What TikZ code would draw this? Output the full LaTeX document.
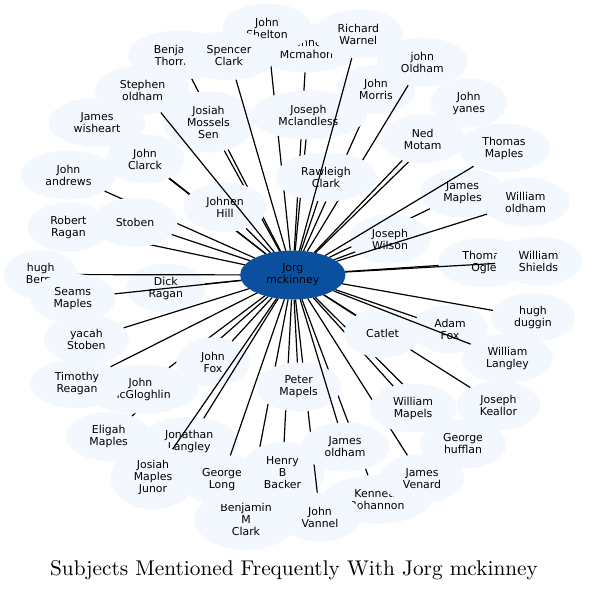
\documentclass[tikz,border=0pt]{standalone}
\usepackage{fontspec}
\newfontfamily\dvs{DejaVu Sans}
\newfontfamily\titlefont{lmroman10-regular.otf}
\usetikzlibrary{shapes.geometric}
\pgfdeclarelayer{fg}
\pgfsetlayers{main,fg}
\definecolor{nodefill}{RGB}{243,247,254}
\definecolor{hubfill}{RGB}{11,80,158}
\tikzset{
  person/.style={ellipse, fill=nodefill, inner xsep=10.8pt, inner ysep=5.4pt,
    minimum width=73.4pt, minimum height=49pt, align=center, outer sep=0pt,
    font=\dvs\fontsize{10.9}{12}\selectfont, text=black},
  hub/.style={person, fill=hubfill},
  link/.style={draw=black, line width=1.2pt},
  caption/.style={font=\titlefont\fontsize{21.3}{24}\selectfont, anchor=base, inner sep=0pt},
}
\begin{document}
\begin{tikzpicture}[x=1pt,y=-1pt]
\useasboundingbox (0,0) rectangle (589,590);
\fill[white] (0,0) rectangle (589,590);
\begin{pgfonlayer}{fg}
\node[hub] (c) at (292.8,275) {Jorg\\mckinney};
\end{pgfonlayer}
\node[person] (mcmahon) at (306.5,48) {Johne\\Mcmahon}; \draw[link] (c) -- (mcmahon);
\node[person] (shelton) at (267,28) {John\\Shelton}; \draw[link] (c) -- (shelton);
\node[person] (benja) at (179.5,55) {Benjamin\\Thornton}; \draw[link] (c) -- (benja);
\node[person] (josiahm) at (208.5,122) {Josiah\\Mossels\\Sen}; \draw[link] (c) -- (josiahm);
\node[person] (spencer) at (229,55.5) {Spencer\\Clark}; \draw[link] (c) -- (spencer);
\node[person] (morris) at (376,89.5) {John\\Morris}; \draw[link] (c) -- (morris);
\node[person] (joldham) at (422.3,62) {john\\Oldham}; \draw[link] (c) -- (joldham);
\node[person] (mclandless) at (308.4,115) {Joseph\\Mclandless}; \draw[link] (c) -- (mclandless);
\node[person] (rawleigh) at (326,177) {Rawleigh\\Clark}; \draw[link] (c) -- (rawleigh);
\node[person] (warnel) at (358.3,34) {Richard\\Warnel}; \draw[link] (c) -- (warnel);
\node[person] (yanes) at (468.8,103) {John\\yanes}; \draw[link] (c) -- (yanes);
\node[person] (ned) at (422.7,139) {Ned\\Motam}; \draw[link] (c) -- (ned);
\node[person] (jmaples) at (462.5,193) {James\\Maples}; \draw[link] (c) -- (jmaples);
\node[person] (jwilson) at (390,239) {Joseph\\Wilson}; \draw[link] (c) -- (jwilson);
\node[person] (tmaples) at (504,148) {Thomas\\Maples}; \draw[link] (c) -- (tmaples);
\node[person] (woldham) at (525.5,202) {William\\oldham}; \draw[link] (c) -- (woldham);
\node[person] (togle) at (484,262.5) {Thomas\\Ogle}; \draw[link] (c) -- (togle);
\node[person] (shields) at (538.5,261) {William\\Shields}; \draw[link] (c) -- (shields);
\node[person] (wisheart) at (97,122.5) {James\\wisheart}; \draw[link] (c) -- (wisheart);
\node[person] (jclarck) at (145,159) {John\\Clarck}; \draw[link] (c) -- (jclarck);
\node[person] (jandrews) at (68.5,175) {John\\andrews}; \draw[link] (c) -- (jandrews);
\node[person] (johnen) at (225,207.3) {Johnen\\Hill}; \draw[link] (c) -- (johnen);
\node[person] (stephen) at (142.5,90) {Stephen\\oldham}; \draw[link] (c) -- (stephen);
\node[person] (rragan) at (68.4,227.3) {Robert\\Ragan}; \draw[link] (c) -- (rragan);
\node[person] (stoben) at (135,222.3) {Stoben}; \draw[link] (c) -- (stoben);
\node[person] (dick) at (165.8,288) {Dick\\Ragan}; \draw[link] (c) -- (dick);
\node[person] (hughben) at (40.7,274.5) {hugh\\Berry}; \draw[link] (c) -- (hughben);
\node[person] (seams) at (72.8,298.3) {Seams\\Maples}; \draw[link] (c) -- (seams);
\node[person] (yacah) at (86.4,339.5) {yacah\\Stoben}; \draw[link] (c) -- (yacah);
\node[person] (eligah) at (108.7,436.5) {Eligah\\Maples}; \draw[link] (c) -- (eligah);
\node[person] (mcg) at (140.5,389) {John\\McGloghlin}; \draw[link] (c) -- (mcg);
\node[person] (timothy) at (77,383.7) {Timothy\\Reagan}; \draw[link] (c) -- (timothy);
\node[person] (jfox) at (213,362) {John\\Fox}; \draw[link] (c) -- (jfox);
\node[person] (jonathan) at (189.2,441.7) {Jonathan\\Langley}; \draw[link] (c) -- (jonathan);
\node[person] (jmj) at (153,477.5) {Josiah\\Maples\\Junor}; \draw[link] (c) -- (jmj);
\node[person] (benjamin) at (246,519.3) {Benjamin\\M\\Clark}; \draw[link] (c) -- (benjamin);
\node[person] (glong) at (222,479.5) {George\\Long}; \draw[link] (c) -- (glong);
\node[person] (henry) at (282.5,472.3) {Henry\\B\\Backer}; \draw[link] (c) -- (henry);
\node[person] (kenneth) at (377,499.3) {Kenneth\\Bohannon}; \draw[link] (c) -- (kenneth);
\node[person] (vannel) at (320,517) {John\\Vannel}; \draw[link] (c) -- (vannel);
\node[person] (peter) at (298.7,387) {Peter\\Mapels}; \draw[link] (c) -- (peter);
\node[person] (joldhamb) at (345,447) {James\\oldham}; \draw[link] (c) -- (joldhamb);
\node[person] (venard) at (422,478.3) {James\\Venard}; \draw[link] (c) -- (venard);
\node[person] (hufflan) at (463,444) {George\\hufflan}; \draw[link] (c) -- (hufflan);
\node[person] (wmapels) at (413,408) {William\\Mapels}; \draw[link] (c) -- (wmapels);
\node[person] (keallor) at (498.5,405.5) {Joseph\\Keallor}; \draw[link] (c) -- (keallor);
\node[person] (catlet) at (382.5,333) {Catlet}; \draw[link] (c) -- (catlet);
\node[person] (adamfox) at (450,329) {Adam\\Fox}; \draw[link] (c) -- (adamfox);
\node[person] (wlangley) at (507.5,358.5) {William\\Langley}; \draw[link] (c) -- (wlangley);
\node[person] (duggin) at (533,317.5) {hugh\\duggin}; \draw[link] (c) -- (duggin);
\node[caption] (title) at (294,575) {Subjects Mentioned Frequently With Jorg mckinney};
\end{tikzpicture}
\end{document}
